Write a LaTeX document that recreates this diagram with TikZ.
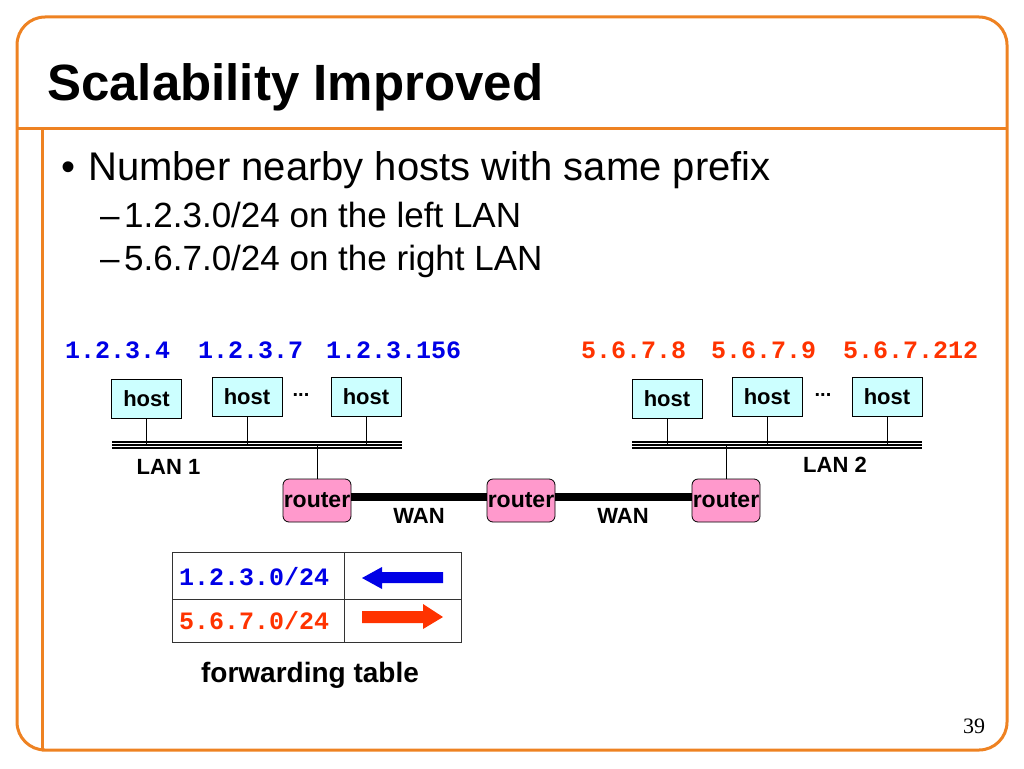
\documentclass[tikz,border=0pt]{standalone}
\usepackage{fontspec}
\setmainfont{Liberation Sans}
\newfontfamily\monof{Liberation Mono}
\newfontfamily\serff{Liberation Serif}
\definecolor{frameC}{RGB}{238,130,34}
\definecolor{hostC}{RGB}{204,255,255}
\definecolor{routerC}{RGB}{255,153,204}
\definecolor{ipblue}{RGB}{0,0,230}
\definecolor{ipred}{RGB}{255,51,0}
\begin{document}
\begin{tikzpicture}[x=1pt,y=-1pt,
  frameline/.style={draw=frameC, line width=3pt},
  hostbox/.style={draw, line width=0.8pt, fill=hostC, minimum width=70pt, minimum height=39pt, inner sep=0pt, font=\fontsize{22}{24}\selectfont\bfseries},
  routerbox/.style={draw, line width=0.8pt, fill=routerC, rounded corners=6pt, minimum width=68pt, minimum height=43pt, inner sep=0pt, font=\fontsize{23}{25}\selectfont\bfseries},
  lanline/.style={line width=1.2pt},
  stem/.style={line width=0.8pt},
  wan/.style={line width=8pt},
  iplabel/.style={anchor=base west, inner sep=0pt, font=\monof\fontsize{25}{28}\selectfont\bfseries},
  txt/.style={anchor=base west, inner sep=0pt},
  boldlbl/.style={anchor=base, inner sep=0pt, font=\fontsize{22}{24}\selectfont\bfseries},
  tblline/.style={draw=black!80, line width=0.9pt}
]
\useasboundingbox (0,0) rectangle (1024,768);
% frame
\draw[frameline, rounded corners=28pt] (42,750) -- (17,750) -- (17,17) -- (1007,17) -- (1007,750) -- (42,750);
\draw[frameline] (17,128) -- (1007,128);
\draw[frameline] (42,128) -- (42,750);

% title and bullets
\node[txt, font=\fontsize{51}{60}\selectfont\bfseries] (title) at (47,100) {Scalability Improved};
\node[txt, font=\fontsize{40}{44}\selectfont] (bul) at (61,180) {•};
\node[txt, font=\fontsize{40}{44}\selectfont] (b1) at (88,180) {Number nearby hosts with same prefix};
\node[txt, font=\fontsize{35}{38}\selectfont] (d1) at (100,227) {–};
\node[txt, font=\fontsize{35}{38}\selectfont] (s1) at (124,227) {1.2.3.0/24 on the left LAN};
\node[txt, font=\fontsize{35}{38}\selectfont] (d2) at (100,270) {–};
\node[txt, font=\fontsize{35}{38}\selectfont] (s2) at (124,270) {5.6.7.0/24 on the right LAN};

% IP labels
\node[iplabel, text=ipblue] (ip1) at (65,358) {1.2.3.4};
\node[iplabel, text=ipblue] (ip2) at (198,358) {1.2.3.7};
\node[iplabel, text=ipblue] (ip3) at (326,358) {1.2.3.156};
\node[iplabel, text=ipred] (ip4) at (581,358) {5.6.7.8};
\node[iplabel, text=ipred] (ip5) at (711,358) {5.6.7.9};
\node[iplabel, text=ipred] (ip6) at (843,358) {5.6.7.212};

% hosts
\node[hostbox] (h1) at (146.5,398.5) {host};
\node[hostbox] (h2) at (247,397) {host};
\node[hostbox] (h3) at (366,397) {host};
\node[hostbox] (h4) at (667,398.5) {host};
\node[hostbox] (h5) at (767,397) {host};
\node[hostbox] (h6) at (887,397) {host};
\node[anchor=base, inner sep=0pt, font=\fontsize{20}{22}\selectfont\bfseries] (dl) at (301,396) {...};
\node[anchor=base, inner sep=0pt, font=\fontsize{20}{22}\selectfont\bfseries] (dr) at (823,396) {...};

% LAN buses
\coordinate (lanLa) at (112,445);
\coordinate (lanLb) at (402,445);
\coordinate (lanRa) at (632,445);
\coordinate (lanRb) at (922,445);
\foreach \s in {-3,0,3} {
  \draw[lanline] ([yshift=\s pt]lanLa) -- ([yshift=\s pt]lanLb);
  \draw[lanline] ([yshift=\s pt]lanRa) -- ([yshift=\s pt]lanRb);
}
\node[boldlbl] (lan1) at (168.5,474) {LAN 1};
\node[boldlbl] (lan2) at (835,472) {LAN 2};

% routers
\node[routerbox] (r1) at (317,500.5) {router};
\node[routerbox] (r2) at (521,500.5) {router};
\node[routerbox] (r3) at (726,500.5) {router};

% stems
\foreach \h in {h1,h2,h3,h4,h5,h6} {
  \draw[stem] (\h.south) -- (\h.south |- lanLa);
}
\draw[stem] (r1.north) -- (r1.north |- lanLa);
\draw[stem] (r3.north) -- (r3.north |- lanRa);

% WAN links
\draw[wan] ([yshift=3.5pt]r1.east) -- ([yshift=3.5pt]r2.west);
\draw[wan] ([yshift=3.5pt]r2.east) -- ([yshift=3.5pt]r3.west);
\node[boldlbl] (wan1) at (419,523) {WAN};
\node[boldlbl] (wan2) at (623,523) {WAN};

% forwarding table
\draw[tblline] (172,552) rectangle (461,642);
\draw[tblline] (344,552) -- (344,642);
\draw[tblline] (172,599) -- (461,599);
\node[iplabel, text=ipblue] (p1) at (179,585) {1.2.3.0/24};
\node[iplabel, text=ipred] (p2) at (179,629) {5.6.7.0/24};
\fill[ipblue] (362,578) -- (382,567) -- (382,572) -- (443,572) -- (443,583) -- (382,583) -- (382,589) -- cycle;
\fill[ipred] (362,611) -- (423,611) -- (423,604) -- (443,617) -- (423,629) -- (423,623) -- (362,623) -- cycle;
\node[anchor=base, inner sep=0pt, font=\fontsize{28}{30}\selectfont\bfseries] (ft) at (310,682) {forwarding table};

% page number
\node[txt, font=\serff\fontsize{22}{24}\selectfont] (pg) at (963,733) {39};
\end{tikzpicture}
\end{document}
